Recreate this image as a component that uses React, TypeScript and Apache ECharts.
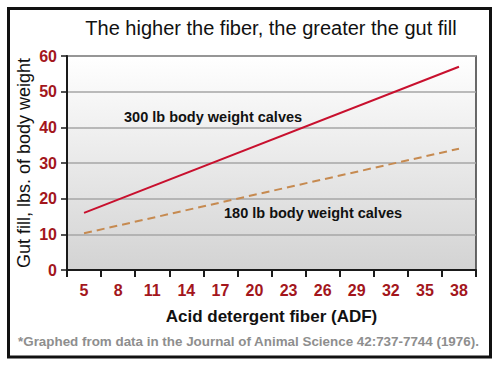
import React, { useEffect, useRef } from "react";
import * as echarts from "echarts";

const categories = ["5", "8", "11", "14", "17", "20", "23", "26", "29", "32", "35", "38"];
const calves300: [string, number][] = [["5", 16], ["38", 57]];
const calves180: [string, number][] = [["5", 10.3], ["38", 34]];
const titleText = "The higher the fiber, the greater the gut fill";
const yName = "Gut fill, lbs. of body weight";
const xName = "Acid detergent fiber (ADF)";
const footnote = "*Graphed from data in the Journal of Animal Science 42:737-7744 (1976).";
const label300 = "300 lb body weight calves";
const label180 = "180 lb body weight calves";

const FONT = "Liberation Sans, Arial, Helvetica, sans-serif";
const TICK_RED = "#a3161c";

export default function App() {
  const ref = useRef<HTMLDivElement>(null);
  useEffect(() => {
    if (!ref.current) return;
    const chart = echarts.init(ref.current, undefined, { renderer: "svg" });
    chart.setOption({
      animation: false,
      backgroundColor: "#ffffff",
      textStyle: { fontFamily: FONT },
      grid: {
        left: 67,
        right: 24,
        top: 56,
        bottom: 96,
        show: true,
        borderColor: "#3a3a3a",
        borderWidth: 1.5,
        backgroundColor: new echarts.graphic.LinearGradient(0, 0, 0, 1, [
          { offset: 0, color: "#ffffff" },
          { offset: 1, color: "#d3d3d3" },
        ]),
      },
      xAxis: {
        type: "category",
        data: categories,
        boundaryGap: true,
        axisLine: { lineStyle: { color: "#1a1a1a", width: 2 } },
        axisTick: { show: true, length: 7, lineStyle: { color: "#1a1a1a", width: 2 } },
        axisLabel: { color: TICK_RED, fontWeight: "bold", fontSize: 16, margin: 12, fontFamily: FONT },
        name: xName,
        nameLocation: "middle",
        nameGap: 38,
        nameMoveOverlap: false,
        nameTextStyle: { color: "#111", fontWeight: "bold", fontSize: 17, fontFamily: FONT },
      },
      yAxis: {
        type: "value",
        min: 0,
        max: 60,
        interval: 10,
        axisLine: { show: true, lineStyle: { color: "#1a1a1a", width: 2 } },
        axisTick: { show: true, length: 6, lineStyle: { color: "#1a1a1a", width: 1.5 } },
        axisLabel: { color: TICK_RED, fontWeight: "bold", fontSize: 16, margin: 10, fontFamily: FONT },
        splitLine: { show: true, lineStyle: { color: "#a6a6a6", width: 1.5 } },
        name: yName,
        nameLocation: "middle",
        nameRotate: 90,
        nameGap: 34,
        nameMoveOverlap: false,
        nameTextStyle: { color: "#111", fontSize: 18, fontFamily: FONT },
      },
      series: [
        {
          type: "line",
          data: calves300,
          symbol: "none",
          lineStyle: { color: "#c8102e", width: 2 },
        },
        {
          type: "line",
          data: calves180,
          symbol: "none",
          lineStyle: { color: "#c68a50", width: 2, type: [8, 5] },
        },
      ],
      graphic: [
        {
          type: "rect",
          shape: { x: 8.5, y: 8.5, width: 482, height: 348.5 },
          style: { fill: "none", stroke: "#111", lineWidth: 3 },
          z: 10,
        },
        {
          type: "text",
          x: 271,
          y: 28,
          style: {
            text: titleText,
            fill: "#111",
            fontSize: 20,
            fontFamily: FONT,
            align: "center",
            verticalAlign: "middle",
          },
        },
        {
          type: "text",
          x: 124,
          y: 117,
          style: {
            text: label300,
            fill: "#111",
            fontSize: 14.5,
            fontWeight: "bold",
            fontFamily: FONT,
            align: "left",
            verticalAlign: "middle",
          },
          z: 5,
        },
        {
          type: "text",
          x: 224,
          y: 213,
          style: {
            text: label180,
            fill: "#111",
            fontSize: 14.5,
            fontWeight: "bold",
            fontFamily: FONT,
            align: "left",
            verticalAlign: "middle",
          },
          z: 5,
        },
        {
          type: "text",
          x: 18,
          y: 341,
          style: {
            text: footnote,
            fill: "#8e8e8e",
            fontSize: 13.4,
            fontWeight: "bold",
            fontFamily: FONT,
            align: "left",
            verticalAlign: "middle",
          },
        },
      ],
    });
    return () => chart.dispose();
  }, []);
  return (
    <div
      ref={ref}
      style={{ position: "absolute", left: 0, top: 0, width: 500, height: 366 }}
    />
  );
}
